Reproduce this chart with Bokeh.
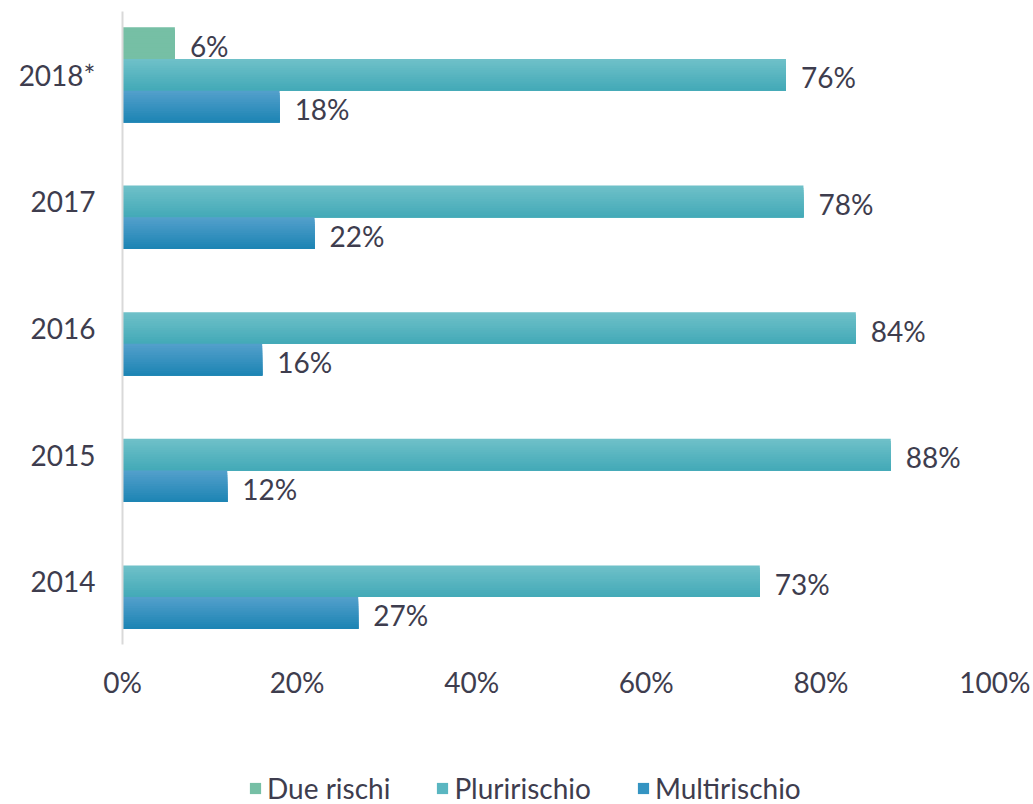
from bokeh.plotting import figure
from bokeh.models import ColumnDataSource, LabelSet, Legend, LegendItem, FactorRange, CustomJSTickFormatter, Range1d
from bokeh.transform import dodge
from bokeh.layouts import column
from bokeh.core.properties import value
from bokeh.embed import file_html
from bokeh.resources import INLINE

years = ["2014", "2015", "2016", "2017", "2018*"]
due_rischi = [None, None, None, None, 6]
pluririschio = [73, 88, 84, 78, 76]
multirischio = [27, 12, 16, 22, 18]
x_ticks = [0, 20, 40, 60, 80, 100]
series_names = ["Due rischi", "Pluririschio", "Multirischio"]

FONT = "Lato"
TXT = "#3E3D4E"
FS = "28px"

# (top colour, bottom colour) for each series' vertical gradient
grad = [((118, 191, 165), (118, 191, 165)),
        ((110, 192, 200), (68, 170, 184)),
        ((82, 159, 203), (30, 133, 180))]
legend_cols = ["#76BFA5", "#5AB6C1", "#3494C2"]
offsets = [0.25, 0.0, -0.25]
BAR_H = 0.25
NSL = 14

p = figure(width=1030, height=762, y_range=FactorRange(*years, range_padding=0),
           x_range=(0, 100), output_backend="svg", toolbar_location=None,
           min_border_left=122, min_border_right=35, min_border_top=11, min_border_bottom=118)
p.outline_line_color = None
p.xgrid.grid_line_color = None
p.ygrid.grid_line_color = None

def hexc(c):
    return "#%02x%02x%02x" % tuple(int(round(v)) for v in c)

for name, vals, (ctop, cbot), off in zip(series_names, [due_rischi, pluririschio, multirischio], grad, offsets):
    ys = [y for y, v in zip(years, vals) if v is not None]
    xs = [v for v in vals if v is not None]
    src = ColumnDataSource(dict(year=ys, val=xs, lab=[f"{v}%" for v in xs]))
    # painter-style gradient: each layer runs from its top edge down to the bar bottom
    for i in range(NSL):
        t = i / (NSL - 1)
        col = hexc([a + (b - a) * t for a, b in zip(ctop, cbot)])
        hh = BAR_H * (1 - i / NSL)
        yo = off - BAR_H / 2 + hh / 2
        p.hbar(y=dodge("year", yo, range=p.y_range), right="val", left=0, height=hh,
               source=src, fill_color=col, line_color=None)
    lbl = LabelSet(x="val", y=dodge("year", off - 0.02, range=p.y_range), text="lab", source=src,
                   x_offset=15, text_baseline="middle", text_font=value(FONT), text_font_size=FS,
                   text_color=TXT)
    p.add_layout(lbl)

p.xaxis.ticker = x_ticks
p.xaxis.formatter = CustomJSTickFormatter(code="return tick + '%';")
p.xaxis.axis_line_color = None
p.xaxis.major_tick_line_color = None
p.xaxis.minor_tick_line_color = None
p.xaxis.major_label_standoff = 14
p.xaxis.major_label_text_font = FONT
p.xaxis.major_label_text_font_size = FS
p.xaxis.major_label_text_color = TXT

p.yaxis.axis_line_color = "#D9D9D9"
p.yaxis.axis_line_width = 2
p.yaxis.major_tick_line_color = None
p.yaxis.minor_tick_line_color = None
p.yaxis.major_label_standoff = 21
p.yaxis.major_label_text_font = FONT
p.yaxis.major_label_text_font_size = FS
p.yaxis.major_label_text_color = TXT

# legend strip (frame aligned with the main plot's frame by the column layout)
lg = figure(width=1030, height=42, x_range=Range1d(0, 1), y_range=Range1d(0, 1),
            x_axis_location=None, y_axis_location=None,
            output_backend="svg", toolbar_location=None,
            min_border_left=122, min_border_right=35, min_border_top=0, min_border_bottom=0)
lg.grid.visible = False
lg.outline_line_color = None
items = []
for name, col in zip(series_names, legend_cols):
    proxy = ColumnDataSource(dict(x=[0], y=[0]))  # zero-length proxy bar, only feeds the legend swatch
    r = lg.hbar(y="y", right="x", left="x", height=0, source=proxy, fill_color=col, line_color=None)
    items.append(LegendItem(label=name, renderers=[r]))
legend = Legend(items=items, orientation="horizontal", location=(126, -1),
                padding=0, spacing=45, label_standoff=5, glyph_width=14, glyph_height=14,
                border_line_color=None, background_fill_alpha=0,
                label_text_font=FONT, label_text_font_size=FS, label_text_color=TXT)
lg.add_layout(legend, "center")

layout = column(p, lg, spacing=0)
open("out.html", "w").write(file_html(layout, INLINE))
